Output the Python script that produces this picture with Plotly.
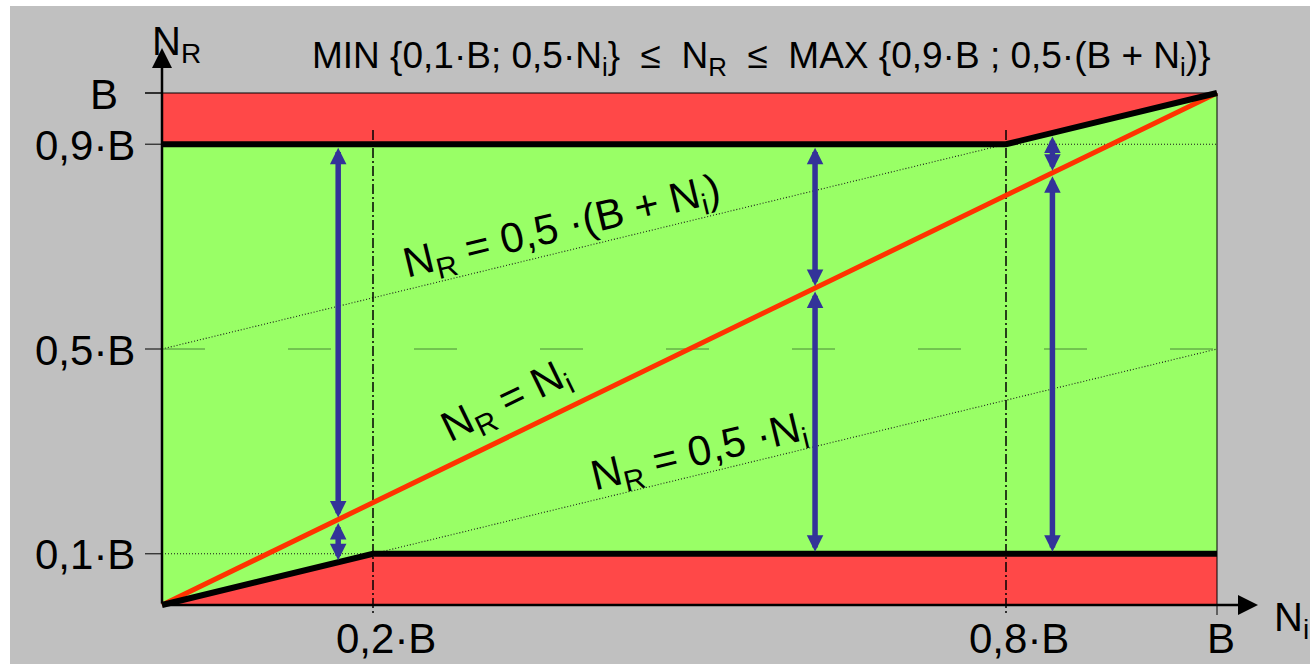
import plotly.graph_objects as go

# ---------------- data ----------------
B = 1.0
lower_x = [0.0, 0.2, 1.0]          # MIN{0,1·B ; 0,5·Ni}
lower_y = [0.0, 0.1, 0.1]
upper_x = [0.0, 0.8, 1.0]          # MAX{0,9·B ; 0,5·(B+Ni)}
upper_y = [0.9, 0.9, 1.0]
diag_x = [0.0, 1.0]                # NR = Ni
diag_y = [0.0, 1.0]
half_x = [0.0, 1.0]                # NR = 0,5·Ni
half_y = [0.0, 0.5]
halfplus_x = [0.0, 1.0]            # NR = 0,5·(B+Ni)
halfplus_y = [0.5, 1.0]
dotted_levels = [0.1, 0.9]
mid_level = 0.5
vline_x = [0.2, 0.8]
arrow_x = [0.167, 0.619, 0.844]

y_tick_vals = [1.0, 0.9, 0.5, 0.1]
y_tick_text = ["B", "0,9·B", "0,5·B", "0,1·B"]
x_tick_vals = [0.2, 0.8, 1.0]
x_tick_text = ["0,2·B", "0,8·B", "B"]


def upper(n):
    return max(0.9 * B, 0.5 * (B + n))


def lower(n):
    return min(0.1 * B, 0.5 * n)


# ---------------- layout geometry ----------------
W, H = 1310, 664
X0PX, X1PX = 162, 1217
Y0PX, Y1PX = 605, 93
sx = (X1PX - X0PX) / B
sy = (Y0PX - Y1PX) / B


def px2x(p):
    return (p - X0PX) / sx


def px2y(p):
    return (Y0PX - p) / sy


GREEN = "#99ff66"
RED = "#ff4848"
BLUE = "#333399"
DIAG = "#ff3300"
FONT = "Liberation Sans, Arial, Helvetica, sans-serif"

fig = go.Figure()


def line(x, y, color, width, dash="solid"):
    fig.add_trace(go.Scatter(x=x, y=y, mode="lines",
                             line=dict(color=color, width=width, dash=dash),
                             hoverinfo="skip", showlegend=False))


# fills
fig.add_trace(go.Scatter(x=[0, B, B, 0, 0], y=[0, 0, B, B, 0], fill="toself",
                         fillcolor=GREEN, mode="lines", line=dict(width=0),
                         hoverinfo="skip", showlegend=False))
fig.add_trace(go.Scatter(x=upper_x + [B, 0], y=upper_y + [B, B], fill="toself",
                         fillcolor=RED, mode="lines", line=dict(width=0),
                         hoverinfo="skip", showlegend=False))
fig.add_trace(go.Scatter(x=lower_x + [B], y=lower_y + [0], fill="toself",
                         fillcolor=RED, mode="lines", line=dict(width=0),
                         hoverinfo="skip", showlegend=False))

# dotted helper lines
dx, dy = [], []
for xs, ys in [(halfplus_x, halfplus_y), (half_x, half_y)]:
    dx += xs + [None]
    dy += ys + [None]
for lv in dotted_levels:
    dx += [0, B, None]
    dy += [lv, lv, None]
line(dx, dy, "#1a1a1a", 1.1, "1px,2px")

# dashed mid line
line([0, B], [mid_level, mid_level], "#4a8a38", 1, "43px,83px")

# dash-dot verticals
vx, vy = [], []
for v in vline_x:
    vx += [v, v, None]
    vy += [px2y(130), px2y(615), None]
line(vx, vy, "black", 1.5, "10px,3px,2px,3px")

# diagonal
line(diag_x, diag_y, DIAG, 5)

# boundaries
line(lower_x, lower_y, "black", 6)
line(upper_x, upper_y, "black", 6)

# frame: top and right thin lines, y ticks
line([px2x(145), B], [B, B], "black", 1)
line([B, B], [B, px2y(615)], "black", 1)
tx, ty = [], []
for v in y_tick_vals:
    tx += [px2x(145), 0, None]
    ty += [v, v, None]
line(tx, ty, "black", 1)

annotations = []

# axes with arrow heads
annotations.append(dict(x=0, y=px2y(48), ax=0, ay=0, xref="x", yref="y",
                        axref="x", ayref="y", text="", showarrow=True,
                        arrowhead=2, arrowsize=1.6, arrowwidth=2.5,
                        arrowcolor="black", standoff=0))
annotations.append(dict(x=px2x(1258), y=0, ax=0, ay=0, xref="x", yref="y",
                        axref="x", ayref="y", text="", showarrow=True,
                        arrowhead=2, arrowsize=1.6, arrowwidth=2.5,
                        arrowcolor="black", standoff=0))

# blue double arrows
for n in arrow_x:
    d = n
    segs = [(upper(n), d), (d, lower(n))]
    for top, bot in segs:
        annotations.append(dict(x=n, y=bot, ax=n, ay=top, xref="x", yref="y",
                                axref="x", ayref="y", text="", showarrow=True,
                                arrowhead=2, arrowsize=0.6, arrowwidth=5.5,
                                startarrowhead=2, startarrowsize=0.6,
                                arrowside="end+start", arrowcolor=BLUE,
                                standoff=2, startstandoff=2))

# tick labels
y_shift = {"B": -42}
for v, t in zip(y_tick_vals, y_tick_text):
    annotations.append(dict(x=0, y=v, xref="x", yref="y", text=t, showarrow=False,
                            xanchor="right", yanchor="middle",
                            xshift=y_shift.get(t, -25), yshift=-1,
                            font=dict(family=FONT, size=42, color="black")))
x_shift = {"B": 4}
for v, t in zip(x_tick_vals, x_tick_text):
    annotations.append(dict(x=v, y=px2y(638), xref="x", yref="y", text=t,
                            showarrow=False, xanchor="center", yanchor="middle",
                            xshift=x_shift.get(t, 13),
                            font=dict(family=FONT, size=42, color="black")))

# axis titles
annotations.append(dict(x=px2x(150), y=px2y(44), xref="x", yref="y",
                        text="N<sub>R</sub>", showarrow=False, xanchor="left",
                        yanchor="middle", font=dict(family=FONT, size=40, color="black")))
annotations.append(dict(x=px2x(1272), y=px2y(620), xref="x", yref="y",
                        text="N<sub>i</sub>", showarrow=False, xanchor="left",
                        yanchor="middle", font=dict(family=FONT, size=40, color="black")))

# formula title
nb = "\u00a0"
title = ("MIN {0,1·B; 0,5·N<sub>i</sub>}" + nb * 2 + "≤" + nb * 2 + "N<sub>R</sub>" +
         nb * 2 + "≤" + nb * 2 + "MAX {0,9·B ; 0,5·(B + N<sub>i</sub>)}")
annotations.append(dict(x=px2x(761), y=px2y(58), xref="x", yref="y", text=title,
                        showarrow=False, xanchor="center", yanchor="middle",
                        font=dict(family=FONT, size=37, color="black")))

# rotated line labels
annotations.append(dict(x=px2x(562), y=px2y(228), xref="x", yref="y",
                        text="N<sub>R</sub> = 0,5 ·(B + N<sub>i</sub>)", textangle=-13.6,
                        showarrow=False, xanchor="center", yanchor="middle",
                        font=dict(family=FONT, size=42, color="black")))
annotations.append(dict(x=px2x(506), y=px2y(402), xref="x", yref="y",
                        text="N<sub>R</sub> = N<sub>i</sub>", textangle=-25.9,
                        showarrow=False, xanchor="center", yanchor="middle",
                        font=dict(family=FONT, size=42, color="black")))
annotations.append(dict(x=px2x(699), y=px2y(453), xref="x", yref="y",
                        text="N<sub>R</sub> = 0,5 ·N<sub>i</sub>", textangle=-13.6,
                        showarrow=False, xanchor="center", yanchor="middle",
                        font=dict(family=FONT, size=42, color="black")))

fig.update_layout(
    width=W, height=H,
    margin=dict(l=0, r=0, t=0, b=0, pad=0),
    paper_bgcolor="white", plot_bgcolor="white",
    xaxis=dict(range=[px2x(0), px2x(W)], visible=False, fixedrange=True),
    yaxis=dict(range=[px2y(H), px2y(0)], visible=False, fixedrange=True),
    shapes=[dict(type="rect", xref="paper", yref="paper", x0=10 / W, x1=1,
                 y0=0, y1=1 - 6 / H, fillcolor="#c0c0c0", line=dict(width=0),
                 layer="below")],
    annotations=annotations,
    showlegend=False,
)

fig.write_html("out.html", config={"displayModeBar": False},
               post_script="document.body.style.margin='0';document.body.style.overflow='hidden';")
